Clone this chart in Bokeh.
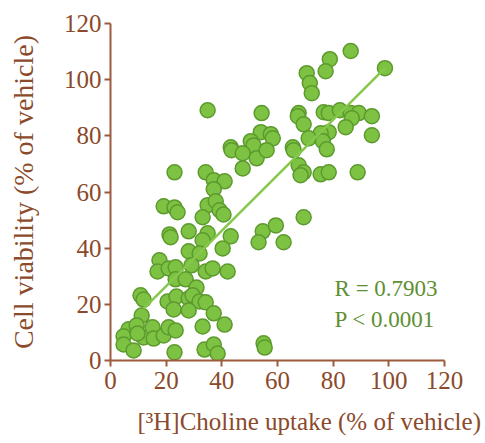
from bokeh.plotting import figure
from bokeh.models import Label, FixedTicker, Title, LinearAxis
from bokeh.embed import file_html
from bokeh.resources import INLINE

# [3H]Choline uptake (% of vehicle)
uptake = [86.3, 78.8, 77.3, 70.5, 71.6, 72.3, 98.6, 34.9, 54.3, 67.6,
          67.3, 69.4, 76.6, 78.4, 82.4, 86.3, 89.2, 93.9, 86.7, 84.5,
          93.9, 78.4, 75.5, 71.2, 76.3, 77.7, 65.5, 65.8, 54.0, 57.6,
          50.4, 51.4, 58.3, 43.2, 43.5, 47.5, 52.5, 56.1, 47.5, 67.6,
          69.4, 68.3, 75.5, 78.4, 88.8, 23.0, 34.2, 37.1, 41.0, 37.1,
          19.1, 23.0, 24.1, 34.9, 37.8, 39.2, 40.6, 33.1, 21.2, 21.6,
          28.1, 34.9, 33.1, 43.2, 40.3, 28.1, 32.0, 54.7, 59.4, 69.4,
          53.2, 62.2, 17.6, 16.9, 20.9, 23.4, 29.1, 34.2, 36.7, 42.1,
          23.4, 27.0, 30.9, 10.8, 11.9, 20.5, 23.7, 22.7, 28.1, 29.5,
          32.0, 34.2, 28.1, 37.1, 11.2, 6.5, 4.7, 4.7, 8.3, 9.4,
          11.9, 15.1, 15.5, 19.1, 20.9, 23.4, 9.7, 33.1, 41.0, 23.0,
          33.8, 37.1, 38.5, 55.0, 55.4]
# Cell viability (% of vehicle)
viability = [110.2, 107.3, 103.0, 102.3, 98.8, 95.2, 104.1, 89.1, 88.1, 88.1,
             87.0, 84.1, 88.4, 88.1, 89.1, 88.1, 88.1, 87.0, 86.3, 83.1,
             80.2, 81.3, 80.9, 79.1, 78.1, 75.2, 75.9, 74.9, 81.3, 80.6,
             78.1, 76.6, 79.1, 75.9, 74.9, 73.8, 72.0, 74.9, 68.4, 69.5,
             67.0, 66.0, 66.3, 67.0, 67.0, 67.0, 67.0, 64.2, 63.8, 61.0,
             54.9, 54.5, 52.8, 55.3, 56.7, 53.5, 52.0, 51.0, 44.9, 43.9,
             46.0, 45.3, 42.8, 44.2, 39.9, 38.9, 38.1, 46.0, 48.1, 51.0,
             42.1, 42.1, 35.7, 31.7, 32.8, 33.2, 33.9, 31.7, 32.8, 31.7,
             28.9, 28.9, 26.0, 23.2, 21.7, 21.0, 22.8, 18.2, 22.1, 23.2,
             21.0, 20.7, 17.8, 16.8, 16.0, 11.1, 8.6, 5.7, 3.6, 12.5,
             8.2, 11.8, 7.8, 8.9, 11.8, 10.7, 9.6, 12.1, 12.8, 2.9,
             3.9, 5.7, 2.5, 6.1, 4.6]

# regression line end points
fit_x = [11.9, 98.6]
fit_y = [18.5, 104.1]

tick_values = [0, 20, 40, 60, 80, 100, 120]
stats_lines = ["R = 0.7903", "P < 0.0001"]

BROWN = "#8b4a2b"
AXIS = "#9c5b3c"
GREEN_TXT = "#5e8f32"
FONT = "Liberation Serif"

p = figure(width=485, height=443, output_backend="svg", toolbar_location=None,
           x_range=(0, 120), y_range=(0, 120))
p.min_border_left = 110
p.min_border_right = 41
p.min_border_top = 23
p.min_border_bottom = 83
p.outline_line_color = None
p.xgrid.visible = False
p.ygrid.visible = False
p.background_fill_color = "white"
p.border_fill_color = "white"

for ax in (p.xaxis[0], p.yaxis[0]):
    ax.ticker = FixedTicker(ticks=tick_values)
    ax.axis_line_color = AXIS
    ax.axis_line_width = 2
    ax.major_tick_line_color = AXIS
    ax.major_tick_line_width = 2
    ax.major_tick_out = 6
    ax.major_tick_in = 0
    ax.minor_tick_line_color = None
    ax.major_label_text_font = FONT
    ax.major_label_text_font_size = "25px"
    ax.major_label_text_color = BROWN
    ax.axis_label_text_font = FONT
    ax.axis_label_text_font_style = "normal"
    ax.axis_label_text_color = BROWN

p.xaxis.major_label_standoff = 5
p.yaxis.major_label_standoff = 3
p.xaxis.axis_label = None
p.yaxis.axis_label = "Cell viability (% of vehicle)"
p.yaxis.axis_label_text_font_size = "28px"
p.yaxis.axis_label_standoff = 22

# blank spacer between the tick labels and the x title (invisible tick)
spacer = LinearAxis(ticker=FixedTicker(ticks=[60]), axis_line_color=None,
                    major_tick_line_color=None, minor_tick_line_color=None,
                    major_tick_out=14, major_tick_in=0, minor_tick_out=0,
                    minor_tick_in=0, major_label_standoff=0,
                    major_label_overrides={60: ""})
p.add_layout(spacer, "below")

p.scatter(uptake, viability, size=15, marker="circle",
          fill_color="#7dc242", line_color="#5c9a2d", line_width=1.5)
p.line(fit_x, fit_y, line_color="#86c84b", line_width=2.5)

xtitle = Title(text="[³H]Choline uptake (% of vehicle)", align="left",
               offset=27, text_font=FONT, text_font_size="25px",
               text_font_style="normal", text_color=BROWN, standoff=0)
p.add_layout(xtitle, "below")

for i, t in enumerate(stats_lines):
    p.add_layout(Label(x=80.5, y=25.5 - i * 11, text=t, text_font=FONT,
                       text_font_size="23px", text_color=GREEN_TXT,
                       text_align="left", text_baseline="middle"))

open("out.html", "w").write(file_html(p, INLINE))
